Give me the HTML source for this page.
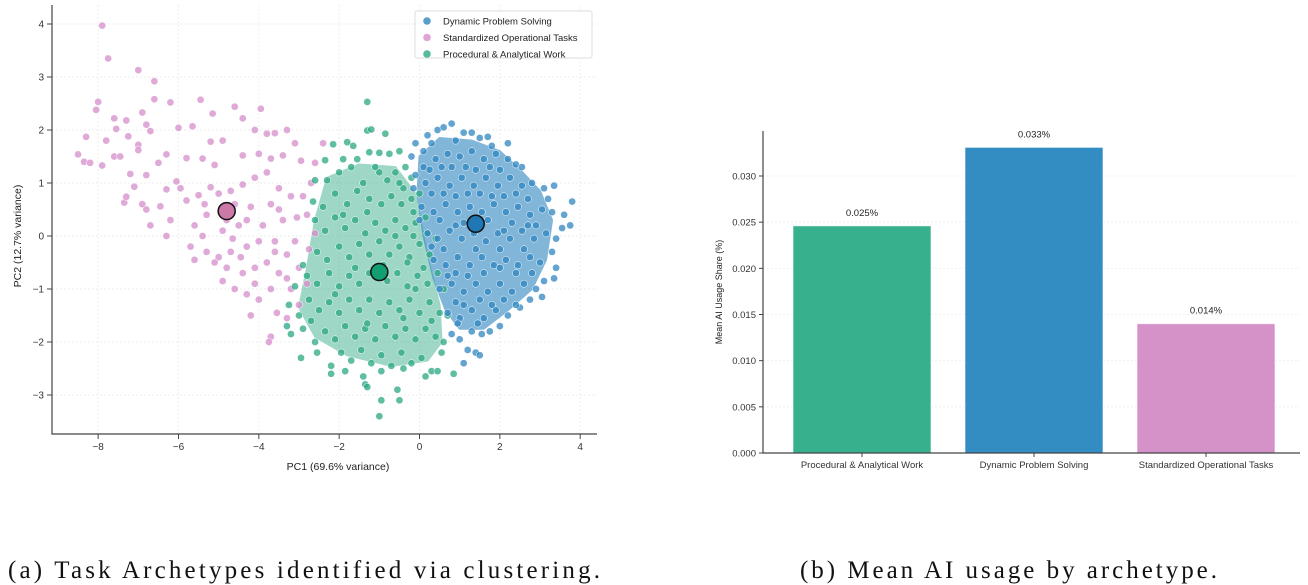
<!DOCTYPE html>
<html><head><meta charset="utf-8">
<style>
html,body{margin:0;padding:0;background:#fff;}
svg{display:block;font-family:"Liberation Sans",Arial,sans-serif;}
</style></head>
<body>
<svg id="root" width="1308" height="585" viewBox="0 0 1308 585">
  <g id="scatter"></g>
  <g id="bars"></g>
  <text x="8" y="578" font-family="Liberation Serif, serif" font-size="25" fill="#111" textLength="592" lengthAdjust="spacing">(a) Task Archetypes identified via clustering.</text>
  <text x="800" y="578" font-family="Liberation Serif, serif" font-size="25" fill="#111" textLength="417" lengthAdjust="spacing">(b) Mean AI usage by archetype.</text>
</svg>
<script>
// ---------- Scatter data ----------
const seriesNames = ["Dynamic Problem Solving","Standardized Operational Tasks","Procedural & Analytical Work"];
const xTicks = [-8,-6,-4,-2,0,2,4];
const yTicks = [-3,-2,-1,0,1,2,3,4];
const pinkPoints = [[-7.9,3.97],[-7.75,3.35],[-7,3.13],[-6.6,2.92],[-6.6,2.58],[-8.0,2.53],[-8.05,2.38],[-7.6,2.22],[-7.55,2.02],[-7.3,2.18],[-6.9,2.33],[-6.8,2.1],[-6.2,2.52],[-5.45,2.57],[-4.6,2.44],[-3.95,2.4],[-5.15,2.31],[-4.4,2.22],[-8.3,1.87],[-7.8,1.8],[-7.25,1.88],[-6.7,1.98],[-6.0,2.04],[-5.65,2.07],[-5.2,1.78],[-4.9,1.8],[-4.1,2.0],[-3.6,1.94],[-3.3,2.0],[-3.8,1.93],[-8.5,1.54],[-8.35,1.4],[-8.2,1.38],[-7.9,1.33],[-7.6,1.5],[-7.45,1.5],[-7.0,1.72],[-7.0,1.62],[-7.2,1.17],[-6.8,1.15],[-6.5,1.38],[-6.3,1.54],[-5.8,1.47],[-5.4,1.46],[-5.1,1.34],[-4.4,1.52],[-4.0,1.55],[-3.7,1.46],[-3.4,1.52],[-2.95,1.42],[-2.6,1.38],[-2.4,1.75],[-3.1,1.75],[-7.35,0.63],[-7.3,0.74],[-7.1,0.93],[-6.9,0.6],[-6.8,0.5],[-6.45,0.56],[-6.3,0.88],[-6.05,1.03],[-5.95,0.9],[-5.8,0.67],[-5.5,0.77],[-5.35,0.6],[-5.2,0.92],[-4.7,0.85],[-4.4,0.97],[-4.1,1.1],[-3.8,1.2],[-3.5,0.9],[-3.2,0.75],[-2.9,0.75],[-2.7,1.0],[-3.05,0.35],[-3.4,0.3],[-3.7,0.6],[-4.2,0.55],[-4.5,0.2],[-4.9,0.1],[-5.3,0.4],[-5.6,0.2],[-6.2,0.3],[-6.7,0.2],[-6.3,0.0],[-5.7,-0.2],[-5.3,-0.3],[-5.0,-0.4],[-4.7,-0.3],[-4.3,-0.2],[-4.0,-0.1],[-3.6,-0.1],[-3.3,-0.35],[-3.0,-0.6],[-2.8,-0.9],[-3.2,-1.0],[-3.5,-0.7],[-3.8,-0.5],[-4.1,-0.6],[-4.4,-0.7],[-4.8,-0.6],[-5.1,-0.5],[-4.6,-1.0],[-4.3,-1.1],[-4.0,-1.2],[-4.2,-1.5],[-3.7,-1.0],[-3.55,-1.45],[-3.7,-1.9],[-3.75,-2.0],[-3.3,-1.55],[-3.0,-1.3],[-5.4,0.0],[-4.8,0.3],[-4.6,0.6],[-5.0,0.8],[-4.3,0.3],[-3.9,0.2],[-3.5,0.5],[-2.8,0.4],[-2.6,0.05],[-2.75,-0.25],[-3.1,-0.1],[-5.6,-0.45],[-4.65,-0.05],[-4.45,-0.4],[-4.9,-0.85],[-4.1,-0.9],[-3.3,-0.8],[-3.6,-0.3]];
const greenPoints = [[-1.3,2.53],[-1.3,1.99],[-1.2,2.01],[-0.85,1.93],[-2.15,1.73],[-1.8,1.77],[-1.65,1.7],[-2.35,1.43],[-1.9,1.45],[-1.55,1.45],[-1.25,1.58],[-1.0,1.57],[-0.75,1.55],[-0.5,1.6],[-2.6,1.05],[-2.3,1.05],[-2.0,1.2],[-1.7,1.3],[-1.4,1.0],[-1.1,1.3],[-1.0,1.2],[-0.8,1.05],[-0.6,1.2],[-0.35,1.3],[-0.2,1.1],[-0.4,0.9],[-2.65,0.65],[-2.4,0.55],[-2.1,0.8],[-1.8,0.6],[-1.55,0.85],[-1.25,0.7],[-0.95,0.6],[-0.7,0.75],[-0.45,0.6],[-0.2,0.7],[0,0.8],[-0.15,0.45],[-2.6,0.3],[-2.35,0.1],[-2.1,0.35],[-1.85,0.15],[-1.6,0.3],[-1.35,0.05],[-1.1,0.25],[-0.85,0.1],[-0.6,0.3],[-0.35,0.15],[-0.1,0.25],[0.15,0.35],[0.2,0.05],[-2.9,-0.55],[-2.55,-0.3],[-2.3,-0.45],[-2.0,-0.2],[-1.75,-0.4],[-1.5,-0.15],[-1.25,-0.35],[-1.0,-0.1],[-0.75,-0.35],[-0.5,-0.2],[-0.25,-0.4],[0.0,-0.15],[0.25,-0.35],[0.4,-0.05],[-3.1,-0.95],[-2.8,-0.75],[-2.55,-0.9],[-2.25,-0.7],[-2.0,-0.95],[-1.75,-0.75],[-1.5,-0.9],[-1.25,-0.7],[-0.8,-0.85],[-0.55,-0.7],[-0.3,-0.95],[-0.05,-0.75],[0.2,-0.9],[0.45,-0.7],[0.6,-1.0],[-3.25,-1.3],[-3.0,-1.5],[-2.75,-1.2],[-2.5,-1.4],[-2.25,-1.25],[-2.0,-1.45],[-1.75,-1.2],[-1.5,-1.4],[-1.25,-1.2],[-1.0,-1.45],[-0.75,-1.25],[-0.5,-1.4],[-0.25,-1.2],[0.0,-1.45],[0.25,-1.25],[0.5,-1.45],[0.7,-1.5],[-3.2,-1.85],[-2.9,-1.75],[-2.6,-2.0],[-2.35,-1.8],[-2.1,-1.95],[-1.85,-1.7],[-1.6,-1.9],[-1.35,-1.75],[-1.1,-1.95],[-0.85,-1.7],[-0.6,-1.9],[-0.35,-1.75],[-0.1,-1.95],[0.15,-1.75],[0.4,-1.9],[0.6,-2.0],[-2.95,-2.3],[-2.55,-2.2],[-2.2,-2.45],[-1.95,-2.2],[-1.7,-2.35],[-1.45,-2.15],[-1.2,-2.4],[-0.95,-2.25],[-0.7,-2.45],[-0.45,-2.2],[-0.2,-2.4],[0.05,-2.3],[0.3,-2.55],[0.55,-2.2],[-2.2,-2.6],[-1.85,-2.55],[-1.4,-2.65],[-0.95,-2.55],[-0.4,-2.5],[0.15,-2.65],[0.45,-2.55],[0.85,-2.6],[-1.35,-2.8],[-1.3,-2.85],[-0.55,-2.9],[-0.95,-3.1],[-0.5,-3.1],[-1.0,-3.4],[-0.3,-0.5],[-0.1,-1.0],[0.1,-0.6],[-0.6,0.0],[-0.9,-0.55],[-1.6,-0.6],[-2.1,-1.1],[-1.3,-1.65],[-0.4,-1.55],[0.3,-1.6],[-0.15,0.0],[-1.9,0.4],[-2.7,-1.6],[-3.3,-1.7],[-1.3,0.45],[-0.5,1.0]];
const bluePoints = [[0.45,2.0],[0.6,2.05],[0.8,2.12],[1.1,1.95],[1.3,1.95],[1.7,1.87],[2.2,1.75],[0.2,1.9],[-0.1,1.75],[0.3,1.75],[0.9,1.8],[1.5,1.85],[1.8,1.7],[-0.2,1.5],[0.1,1.6],[0.4,1.45],[0.7,1.55],[1.0,1.5],[1.3,1.6],[1.6,1.45],[1.9,1.55],[2.2,1.45],[2.4,1.35],[2.55,1.3],[0.55,1.3],[1.15,1.3],[1.75,1.3],[-0.1,1.15],[0.15,1.0],[0.45,1.1],[0.75,0.95],[1.05,1.1],[1.35,0.95],[1.65,1.1],[1.95,0.95],[2.25,1.1],[2.55,0.95],[2.8,1.0],[3.1,0.9],[3.35,0.95],[0.3,0.8],[0.9,0.75],[1.5,0.8],[2.1,0.75],[2.7,0.7],[0.05,0.55],[0.35,0.45],[0.65,0.6],[0.95,0.45],[1.25,0.55],[1.55,0.45],[1.85,0.6],[2.15,0.45],[2.45,0.55],[2.75,0.4],[3.05,0.5],[3.3,0.45],[3.6,0.4],[0.5,0.3],[1.1,0.25],[1.7,0.3],[2.3,0.25],[2.9,0.2],[0.2,0.05],[0.45,-0.05],[0.75,0.1],[1.05,-0.05],[1.35,0.05],[1.65,-0.1],[1.95,0.05],[2.25,-0.05],[2.55,0.1],[2.85,-0.05],[3.15,0.05],[3.4,-0.05],[3.75,0.2],[3.8,0.65],[3.55,0.15],[0.35,-0.45],[0.65,-0.55],[0.95,-0.4],[1.25,-0.55],[1.55,-0.4],[1.85,-0.55],[2.15,-0.45],[2.45,-0.55],[2.75,-0.4],[3.0,-0.5],[3.3,-0.3],[3.4,-0.6],[0.6,-0.25],[1.4,-0.25],[2.0,-0.25],[2.6,-0.25],[0.5,-1.0],[0.8,-0.9],[1.1,-1.05],[1.4,-0.9],[1.7,-1.05],[2.0,-0.9],[2.3,-1.05],[2.6,-0.9],[2.9,-1.0],[3.1,-0.85],[3.35,-0.8],[0.9,-0.7],[1.6,-0.7],[2.4,-0.7],[0.7,-1.45],[1.0,-1.55],[1.3,-1.4],[1.6,-1.55],[1.9,-1.4],[2.2,-1.5],[2.5,-1.35],[2.75,-1.2],[3.05,-1.15],[0.9,-1.25],[1.5,-1.2],[2.1,-1.2],[0.8,-1.85],[1.0,-1.95],[1.3,-1.8],[1.55,-1.85],[1.75,-1.8],[1.2,-2.15],[1.4,-2.2],[1.5,-2.25],[1.1,-2.4],[0.95,-1.65],[1.45,-1.65],[2.0,-1.7],[0.1,1.3],[0.8,1.3],[1.4,1.25],[2.0,1.25],[0.0,0.3],[0.6,0.8],[1.2,0.8],[1.8,0.75],[2.4,0.8],[0.3,-0.2],[0.9,0.2],[1.5,0.2],[2.1,0.1],[2.7,0.2],[0.7,-0.75],[1.2,-0.75],[2.0,-0.6],[2.8,-0.7],[1.1,-1.3],[1.8,-1.3],[2.4,-1.3],[-0.15,0.9],[3.2,0.7],[0.25,1.25]];
const blueHull = [[0.0,1.5],[0.5,1.85],[1.3,1.8],[2.0,1.6],[2.5,1.25],[3.0,0.85],[3.3,0.3],[3.15,-0.45],[2.8,-1.0],[2.2,-1.4],[1.6,-1.75],[1.0,-1.75],[0.65,-1.4],[0.35,-0.8],[0.1,0.0],[-0.05,0.8]];
const greenHull = [[-2.3,1.1],[-1.5,1.35],[-0.6,1.3],[-0.1,0.8],[0.2,-0.4],[0.5,-1.3],[0.55,-2.0],[0.2,-2.35],[-0.7,-2.45],[-1.8,-2.25],[-2.6,-1.9],[-3.0,-1.35],[-2.8,-0.6],[-2.6,0.3]];
const centroids = [[1.4,0.23],[-4.8,0.47],[-1.0,-0.68]];

// ---------- Bar data ----------
const barCategories = ["Procedural & Analytical Work","Dynamic Problem Solving","Standardized Operational Tasks"];
const barValues = [0.0246,0.0331,0.0140];
const barLabels = ["0.025%","0.033%","0.014%"];
const barTicks = [0,0.005,0.010,0.015,0.020,0.025,0.030];

const NS="http://www.w3.org/2000/svg";
function mk(parent,tag,attrs,text){const e=document.createElementNS(NS,tag);for(const k in attrs)e.setAttribute(k,attrs[k]);if(text!==undefined)e.textContent=text;parent.appendChild(e);return e;}

const sx = v => 419.5 + v*40.17;
const sy = v => 236 - v*53;
const S = document.getElementById('scatter');
const colBlue="#2f86c0", colPink="#d68ecb", colGreen="#2aa783";
xTicks.forEach(t=>{
  const g=mk(S,'line',{x1:sx(t),x2:sx(t),y1:5,y2:434,stroke:"#eee","stroke-dasharray":"2,2"});
  
  
  const tk=mk(S,'line',{x1:sx(t),x2:sx(t),y1:434,y2:439,stroke:"#444"});
  
  
  const l=mk(S,'text',{x:sx(t),y:450,"font-size":10,"text-anchor":"middle",fill:"#333"},(t<0?"\u2212":"")+Math.abs(t));
  
  
});
yTicks.forEach(t=>{
  const g=mk(S,'line',{x1:52,x2:597,y1:sy(t),y2:sy(t),stroke:"#eee","stroke-dasharray":"2,2"});
  
  
  const tk=mk(S,'line',{x1:47,x2:52,y1:sy(t),y2:sy(t),stroke:"#444"});
  
  
  const l=mk(S,'text',{x:44,y:sy(t)+3.5,"font-size":10,"text-anchor":"end",fill:"#333"},(t<0?"\u2212":"")+Math.abs(t));
  
  
});
function hull(pts,col,op,name){
  const p=mk(S,'polygon',{points:pts.map(q=>sx(q[0])+","+sy(q[1])).join(" "),fill:col,opacity:op,"stroke":col,"stroke-width":2,"stroke-linejoin":"round"});
  
  
}
hull(greenHull,colGreen,0.45,'procedural-density');
hull(blueHull,colBlue,0.6,'dynamic-density');
function pts(list,col,name){
  list.forEach(q=>{
    const c=mk(S,'circle',{cx:sx(q[0]),cy:sy(q[1]),r:3.6,fill:col,"fill-opacity":0.75,stroke:"#fff","stroke-width":0.5});
    
    
  });
}
pts(pinkPoints,colPink,'standardized-point');
pts(greenPoints,colGreen,'procedural-point');
pts(bluePoints,colBlue,'dynamic-point');
const cCols=["#1f77b4","#cc79a7","#129e73"];
centroids.forEach((q,i)=>{
  const c=mk(S,'circle',{cx:sx(q[0]),cy:sy(q[1]),r:8.5,fill:cCols[i],stroke:"#111","stroke-width":1.5});
  
  
});
const ax1=mk(S,'path',{d:"M52,5 L52,434 L597,434",fill:"none",stroke:"#444","stroke-width":1.2});


const xl=mk(S,'text',{x:338,y:470,"font-size":10.5,"text-anchor":"middle",fill:"#222"},"PC1 (69.6% variance)");


const yl=mk(S,'text',{x:0,y:0,"font-size":10.5,"text-anchor":"middle",fill:"#222",transform:"translate(21,236) rotate(-90)"},"PC2 (12.7% variance)");


const lg=mk(S,'g',{});


const lb=mk(lg,'rect',{x:415,y:11,width:177,height:47,rx:2,fill:"#fff",stroke:"#ddd"});


seriesNames.forEach((n,i)=>{
  const y=21+i*16.5;
  const m=mk(lg,'circle',{cx:427,cy:y,r:3.8,fill:[colBlue,colPink,colGreen][i],"fill-opacity":0.8});
  
  
  const t=mk(lg,'text',{x:443,y:y+3.5,"font-size":9.5,fill:"#222"},n);
  
  
});

// Bar chart
const B=document.getElementById('bars');
const by = v => 453 - v*(277/0.030);
const barW=138;
const bCols=["#37b08e","#348dc2","#d592c8"];
barTicks.forEach(t=>{
  const g=mk(B,'line',{x1:763,x2:1300,y1:by(t),y2:by(t),stroke:"#f0f0f0","stroke-dasharray":"2,2"});
  
  
  const tk=mk(B,'line',{x1:759,x2:763,y1:by(t),y2:by(t),stroke:"#444"});
  
  
  const l=mk(B,'text',{x:756,y:by(t)+3.5,"font-size":9.5,"text-anchor":"end",fill:"#333"},t.toFixed(3));
  
  
});
barCategories.forEach((c,i)=>{
  const cx=862+172*i;
  const r=mk(B,'rect',{x:cx-barW/2,y:by(barValues[i]),width:barW,height:453-by(barValues[i]),fill:bCols[i],stroke:"#fff","stroke-opacity":0.6});
  
  
  const v=mk(B,'text',{x:cx,y:by(barValues[i])-10,"font-size":9.5,"text-anchor":"middle",fill:"#222"},barLabels[i]);
  
  
  const tk=mk(B,'line',{x1:cx,x2:cx,y1:453,y2:457,stroke:"#444"});
  
  
  const l=mk(B,'text',{x:cx,y:468,"font-size":9.5,"text-anchor":"middle",fill:"#333"},c);
  
  
});
const ax2=mk(B,'path',{d:"M763,131 L763,453 L1300,453",fill:"none",stroke:"#444","stroke-width":1.2});


const byl=mk(B,'text',{x:0,y:0,"font-size":9,"text-anchor":"middle",fill:"#222",transform:"translate(722,292) rotate(-90)"},"Mean AI Usage Share (%)");


</script>
</body></html>
